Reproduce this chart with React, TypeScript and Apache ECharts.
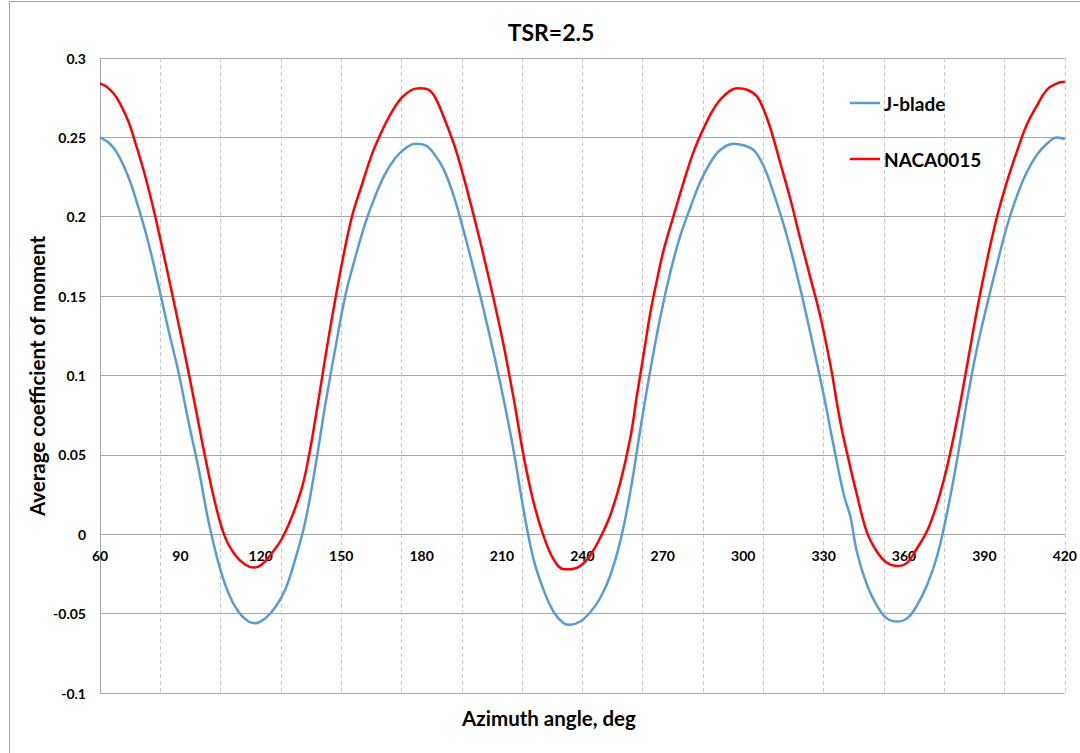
import React, { useEffect, useRef } from "react";
import * as echarts from "echarts";

// Azimuth angles (deg) and average moment coefficients
const jbladeAngle = [
  60, 63.7, 66.8, 70.6, 74.3, 78.0, 81.8, 85.5, 89.3, 93.0,
  96.7, 100.5, 104.2, 107.9, 111.7, 115.4, 117.9, 121.6, 125.4, 129.1,
  132.8, 136.6, 140.3, 144.0, 147.8, 151.5, 155.2, 159.0, 162.7, 166.4,
  170.2, 173.9, 177.6, 181.4,
  184.5, 188.2, 192.0, 195.7, 199.4, 203.2, 206.9, 210.6, 214.4, 218.1,
  221.8, 225.5, 229.3, 233.0, 235.5, 239.2, 243.0, 246.7, 250.4, 254.2,
  257.9, 261.6, 265.3, 269.1, 272.8, 276.5, 280.3, 284.0, 287.7, 291.4,
  296.4, 300.1,
  303.9, 307.6, 311.3, 315.1, 318.8, 322.5, 326.3, 330.0, 333.7, 337.5,
  340.0, 342.4, 346.2, 349.9, 353.6, 357.4, 361.1, 364.8, 368.6, 372.3,
  376.0, 379.8, 383.5, 387.2, 390.9, 394.7, 398.4, 402.1, 405.8, 409.6,
  413.3, 417.1, 420,
];
const jbladeCm = [
  0.250, 0.246, 0.239, 0.225, 0.206, 0.184, 0.157, 0.129, 0.102, 0.071,
  0.042, 0.008, -0.018, -0.037, -0.049, -0.055, -0.056, -0.053, -0.046, -0.035,
  -0.016, 0.008, 0.042, 0.081, 0.117, 0.150, 0.174, 0.196, 0.213, 0.227,
  0.237, 0.243, 0.246, 0.245,
  0.240, 0.230, 0.213, 0.191, 0.167, 0.141, 0.114, 0.085, 0.052, 0.015,
  -0.016, -0.035, -0.049, -0.056, -0.057, -0.055, -0.049, -0.040, -0.026, -0.004,
  0.027, 0.066, 0.103, 0.137, 0.165, 0.188, 0.206, 0.222, 0.234, 0.242,
  0.246, 0.245,
  0.242, 0.232, 0.215, 0.195, 0.172, 0.146, 0.117, 0.088, 0.056, 0.025,
  0.011, -0.011, -0.032, -0.045, -0.053, -0.055, -0.053, -0.045, -0.032, -0.014,
  0.013, 0.047, 0.084, 0.117, 0.144, 0.170, 0.194, 0.213, 0.228, 0.239,
  0.246, 0.250, 0.249,
];

const nacaAngle = [
  60, 63.1, 66.2, 70.6, 73.1, 76.8, 80.5, 84.3, 88.0, 91.7,
  95.5, 99.2, 102.9, 106.7, 110.4, 114.1, 117.3, 120.4, 124.1, 127.8,
  131.6, 135.3, 137.8, 140.3, 142.8, 145.3, 147.8, 150.2, 154.0, 157.7,
  161.4, 165.2, 168.9, 172.6, 176.4, 179.5, 182.6,
  185.1,
  188.2, 192.0, 195.7, 199.4, 203.2, 206.9, 210.6, 214.4, 218.1, 221.8,
  225.5, 229.3, 233.0, 235.5, 239.2, 243.0, 246.7, 250.4, 254.2, 257.9,
  260.4, 262.9, 265.3, 267.8, 270.3, 274.1, 277.8, 281.5, 285.3, 289.0,
  292.7, 297.7, 301.4,
  305.0, 307.5, 310.1, 313.8, 317.6, 321.3, 325.0, 328.8, 332.5, 336.2,
  339.3, 342.4, 346.2, 349.9, 353.6, 357.4, 361.1, 364.8, 368.6, 372.3,
  376.0, 379.8, 383.5, 387.2, 390.9, 394.7, 398.4, 402.1, 405.8, 409.6,
  413.3, 417.1, 420,
];
const nacaCm = [
  0.284, 0.281, 0.275, 0.260, 0.247, 0.226, 0.201, 0.172, 0.143, 0.113,
  0.081, 0.049, 0.020, -0.002, -0.013, -0.019, -0.021, -0.019, -0.012, -0.003,
  0.011, 0.029, 0.048, 0.072, 0.098, 0.124, 0.148, 0.170, 0.200, 0.220,
  0.239, 0.254, 0.266, 0.275, 0.280, 0.281, 0.280,
  0.275,
  0.263, 0.246, 0.225, 0.201, 0.175, 0.148, 0.119, 0.085, 0.049, 0.020,
  -0.001, -0.016, -0.022, -0.022, -0.020, -0.013, -0.002, 0.012, 0.033, 0.061,
  0.088, 0.114, 0.139, 0.160, 0.179, 0.201, 0.222, 0.241, 0.256, 0.268,
  0.276, 0.281, 0.280,
  0.276, 0.268, 0.256, 0.234, 0.211, 0.186, 0.162, 0.137, 0.107, 0.071,
  0.047, 0.025, 0.001, -0.011, -0.018, -0.020, -0.018, -0.009, 0.002, 0.019,
  0.042, 0.072, 0.106, 0.141, 0.172, 0.200, 0.222, 0.241, 0.258, 0.270,
  0.280, 0.284, 0.285,
];

const seriesNames = ["J-blade", "NACA0015"];
const titleText = "TSR=2.5";
const xAxisTitle = "Azimuth angle, deg";
const yAxisTitle = "Average coefficient of moment";

const FONT = "Lato, 'Open Sans', sans-serif";
const PLOT_HEIGHT = 753 - 58 - 60;

function zip(xs: number[], ys: number[]) {
  const n = Math.min(xs.length, ys.length);
  const out: number[][] = [];
  for (let i = 0; i < n; i++) out.push([xs[i], ys[i]]);
  return out;
}

export default function App() {
  const ref = useRef<HTMLDivElement>(null);
  useEffect(() => {
    document.body.style.margin = "0";
    const chart = echarts.init(ref.current!, null, { renderer: "svg" });
    const yMin = -0.1;
    const yMax = 0.3;
    chart.setOption({
      animation: false,
      backgroundColor: "#ffffff",
      grid: { left: 100, right: 14, top: 58, bottom: 60, containLabel: false },
      legend: {
        data: seriesNames,
        orient: "vertical",
        left: 850,
        top: 92,
        icon: "rect",
        itemWidth: 30,
        itemHeight: 2.5,
        itemGap: 34,
        padding: 0,
        textStyle: {
          fontSize: 19,
          lineHeight: 22,
          fontWeight: "bold",
          color: "#000",
          fontFamily: FONT,
          padding: [0, 0, 0, -1],
        },
      },
      xAxis: [
        {
          type: "value",
          min: 60,
          max: 420,
          interval: 30,
          position: "bottom",
          offset: -(PLOT_HEIGHT * (0 - yMin)) / (yMax - yMin),
          axisLine: { show: true, onZero: false, lineStyle: { color: "#a6a6a6", width: 1 } },
          axisTick: { show: false },
          splitLine: { show: false },
          axisLabel: {
            fontSize: 14,
            fontWeight: "bold",
            color: "#000",
            fontFamily: FONT,
            margin: 14,
            showMinLabel: true,
            showMaxLabel: true,
          },
        },
        {
          type: "value",
          min: 0,
          max: 360,
          interval: 22.5,
          position: "top",
          axisLine: { show: false, onZero: false },
          axisTick: { show: false },
          axisLabel: { show: false },
          splitLine: { show: true, lineStyle: { color: "#c8c8c8", type: [4, 3], width: 1 } },
        },
      ],
      yAxis: {
        type: "value",
        min: yMin,
        max: yMax,
        interval: 0.05,
        axisLine: { show: true, onZero: false, lineStyle: { color: "#a6a6a6", width: 1 } },
        axisTick: { show: false },
        splitLine: { show: true, lineStyle: { color: "#a6a6a6", width: 1 } },
        axisLabel: {
          fontSize: 14,
          fontWeight: "bold",
          color: "#000",
          fontFamily: FONT,
          margin: 14,
          formatter: (v: number) => String(+v.toFixed(2)),
        },
      },
      series: [
        {
          name: seriesNames[0],
          type: "line",
          xAxisIndex: 0,
          showSymbol: false,
          symbol: "none",
          smooth: 0.4,
          lineStyle: { color: "#5b9bd5", width: 2.5 },
          itemStyle: { color: "#5b9bd5" },
          data: zip(jbladeAngle, jbladeCm),
          z: 3,
        },
        {
          name: seriesNames[1],
          type: "line",
          xAxisIndex: 0,
          showSymbol: false,
          symbol: "none",
          smooth: 0.4,
          lineStyle: { color: "#ff0000", width: 2.5 },
          itemStyle: { color: "#ff0000" },
          data: zip(nacaAngle, nacaCm),
          z: 4,
        },
      ],
      graphic: [
        {
          type: "rect",
          shape: { x: 9.5, y: 1.5, width: 1200, height: 1000 },
          style: { fill: "none", stroke: "#a6a6a6", lineWidth: 1 },
          silent: true,
          z: -10,
        },
        {
          type: "text",
          x: 551,
          y: 32,
          style: {
            text: titleText,
            fontSize: 23,
            fontWeight: "bold",
            fontFamily: FONT,
            fill: "#000",
            textAlign: "center",
            textVerticalAlign: "middle",
          },
        },
        {
          type: "text",
          x: 549,
          y: 718,
          style: {
            text: xAxisTitle,
            fontSize: 20.5,
            fontWeight: "bold",
            fontFamily: FONT,
            fill: "#000",
            textAlign: "center",
            textVerticalAlign: "middle",
          },
        },
        {
          type: "text",
          x: 37,
          y: 376,
          rotation: Math.PI / 2,
          style: {
            text: yAxisTitle,
            fontSize: 20.5,
            fontWeight: "bold",
            fontFamily: FONT,
            fill: "#000",
            textAlign: "center",
            textVerticalAlign: "middle",
          },
        },
      ],
    });
    return () => chart.dispose();
  }, []);
  return <div ref={ref} style={{ width: 1080, height: 753 }} />;
}
